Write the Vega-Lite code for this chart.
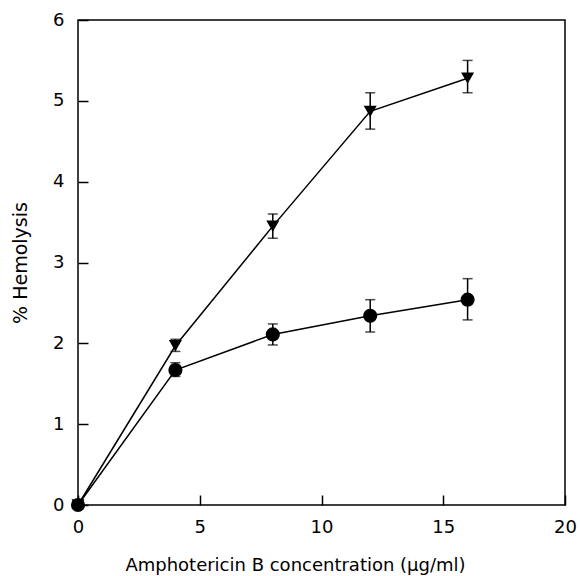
{
  "$schema": "https://vega.github.io/schema/vega-lite/v6.json",
  "width": 487,
  "height": 485,
  "autosize": {"type": "none"},
  "padding": {"left": 78, "top": 20, "right": 15, "bottom": 71},
  "background": "white",
  "config": {
    "view": {"stroke": "black", "strokeWidth": 1.5},
    "font": "DejaVu Sans",
    "axis": {
      "domain": false,
      "tickColor": "black", "tickWidth": 1.5,
      "labelColor": "black", "labelFontSize": 18, "labelFont": "DejaVu Sans", "labelFlush": false,
      "titleColor": "black", "titleFont": "DejaVu Sans", "titleFontWeight": "normal",
      "grid": false, "zindex": 1
    }
  },
  "data": {
    "values": [
      {"conc": 0, "hemo": 0, "lo": 0, "hi": 0, "series": "A"},
      {"conc": 4, "hemo": 1.97, "lo": 1.9, "hi": 2.05, "series": "A"},
      {"conc": 8, "hemo": 3.45, "lo": 3.3, "hi": 3.6, "series": "A"},
      {"conc": 12, "hemo": 4.87, "lo": 4.65, "hi": 5.1, "series": "A"},
      {"conc": 16, "hemo": 5.28, "lo": 5.1, "hi": 5.5, "series": "A"},
      {"conc": 0, "hemo": 0, "lo": 0, "hi": 0, "series": "B"},
      {"conc": 4, "hemo": 1.67, "lo": 1.59, "hi": 1.76, "series": "B"},
      {"conc": 8, "hemo": 2.11, "lo": 1.98, "hi": 2.24, "series": "B"},
      {"conc": 12, "hemo": 2.34, "lo": 2.14, "hi": 2.54, "series": "B"},
      {"conc": 16, "hemo": 2.54, "lo": 2.29, "hi": 2.8, "series": "B"}
    ]
  },
  "encoding": {
    "x": {
      "field": "conc", "type": "quantitative",
      "scale": {"domain": [0, 20], "nice": false},
      "axis": {"values": [0, 5, 10, 15, 20], "title": "Amphotericin B concentration (μg/ml)", "titleFontSize": 18, "tickSize": -10, "labelPadding": 23, "titlePadding": 20, "titleX": 217}
    },
    "y": {
      "field": "hemo", "type": "quantitative",
      "scale": {"domain": [0, 6], "nice": false},
      "axis": {"values": [0, 1, 2, 3, 4, 5, 6], "title": "% Hemolysis", "titleFontSize": 19, "offset": -10, "tickSize": 10, "labelPadding": 14, "titlePadding": 22}
    }
  },
  "layer": [
    {
      "mark": {"type": "line", "color": "black", "strokeWidth": 1.5},
      "encoding": {"detail": {"field": "series"}}
    },
    {
      "transform": [{"filter": "datum.conc > 0"}],
      "mark": {"type": "rule", "color": "black", "strokeWidth": 1.5},
      "encoding": {"y": {"field": "lo", "type": "quantitative"}, "y2": {"field": "hi"}}
    },
    {
      "transform": [{"filter": "datum.conc > 0"}],
      "mark": {"type": "tick", "color": "black", "orient": "horizontal", "size": 10, "thickness": 1.5},
      "encoding": {"y": {"field": "lo", "type": "quantitative"}}
    },
    {
      "transform": [{"filter": "datum.conc > 0"}],
      "mark": {"type": "tick", "color": "black", "orient": "horizontal", "size": 10, "thickness": 1.5},
      "encoding": {"y": {"field": "hi", "type": "quantitative"}}
    },
    {
      "mark": {"type": "point", "filled": true, "color": "black", "opacity": 1},
      "encoding": {
        "shape": {"field": "series", "type": "nominal", "scale": {"domain": ["A", "B"], "range": ["triangle-down", "circle"]}, "legend": null},
        "size": {"field": "series", "type": "nominal", "scale": {"domain": ["A", "B"], "range": [170, 200]}, "legend": null}
      }
    }
  ]
}
